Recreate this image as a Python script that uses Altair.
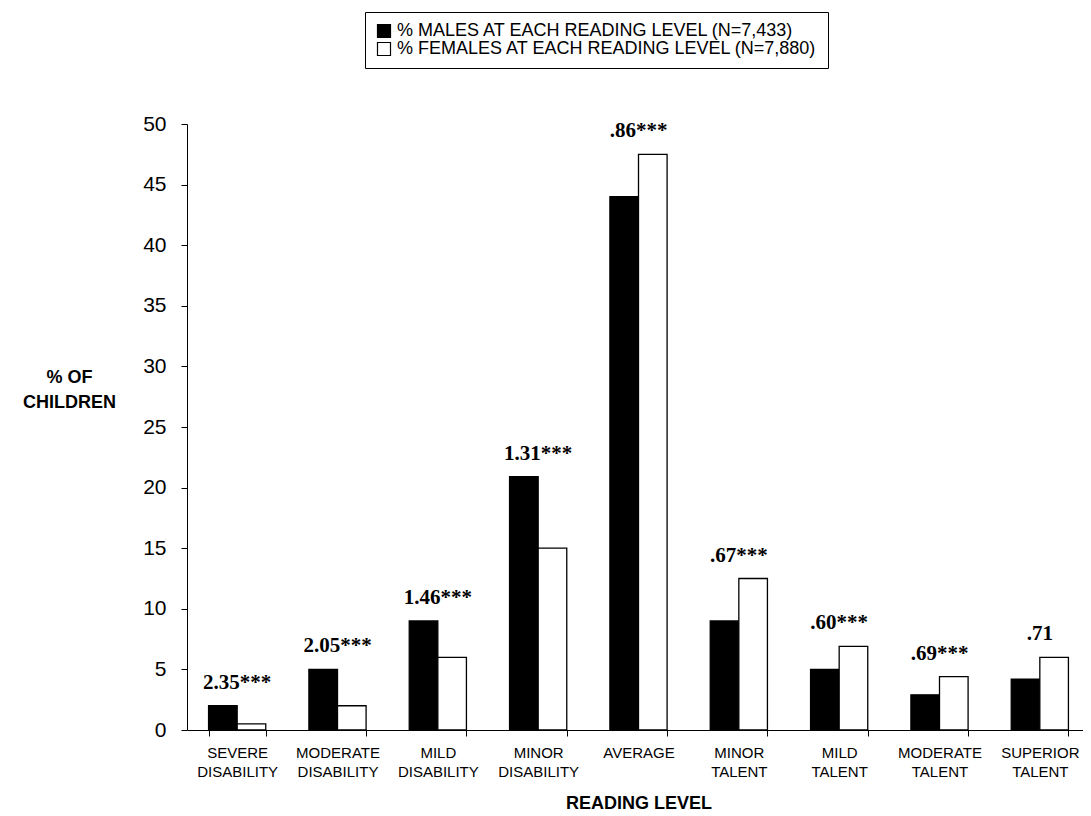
import altair as alt
import pandas as pd

categories = ["SEVERE DISABILITY", "MODERATE DISABILITY", "MILD DISABILITY",
              "MINOR DISABILITY", "AVERAGE", "MINOR TALENT", "MILD TALENT",
              "MODERATE TALENT", "SUPERIOR TALENT"]
males = [2.0, 5.0, 9.0, 20.9, 44.0, 9.0, 5.0, 2.9, 4.2]
females = [0.5, 2.0, 6.0, 15.0, 47.5, 12.5, 6.9, 4.4, 6.0]
ratios = ["2.35***", "2.05***", "1.46***", "1.31***", ".86***",
          ".67***", ".60***", ".69***", ".71"]
series = ["% MALES AT EACH READING LEVEL (N=7,433)",
          "% FEMALES AT EACH READING LEVEL (N=7,880)"]
y_ticks = [0, 5, 10, 15, 20, 25, 30, 35, 40, 45, 50]

rows = []
for c, m, f in zip(categories, males, females):
    rows.append({"level": c, "group": series[0], "pct": m})
    rows.append({"level": c, "group": series[1], "pct": f})
bars_df = pd.DataFrame(rows)

ann_df = pd.DataFrame({
    "level": categories,
    "label": ratios,
    "top": [max(m, f) for m, f in zip(males, females)],
})

x_scale = alt.Scale(domain=categories, paddingInner=0.43, paddingOuter=0.215)
y_scale = alt.Scale(domain=[0, 50], nice=False)

bars = alt.Chart(bars_df).mark_bar(stroke="black", strokeWidth=1.3).encode(
    x=alt.X("level:N", scale=x_scale, sort=categories,
            axis=alt.Axis(title="READING LEVEL", labelAngle=0,
                          labelExpr="split(datum.label, ' ')",
                          labelFont="Liberation Sans", labelFontSize=15,
                          labelLineHeight=19, labelPadding=9,
                          labelColor="black", tickSize=6, tickColor="black",
                          tickBand="extent", domainColor="black",
                          titleFont="Liberation Sans", titleFontSize=18,
                          titleFontWeight="bold", titleColor="black",
                          titlePadding=15)),
    xOffset=alt.XOffset("group:N", sort=series,
                        scale=alt.Scale(domain=series, paddingInner=0, paddingOuter=0)),
    y=alt.Y("pct:Q", scale=y_scale,
            axis=alt.Axis(values=y_ticks, grid=False,
                          labelFont="Liberation Sans", labelFontSize=21,
                          labelColor="black", labelPadding=15,
                          tickSize=6, tickColor="black", domainColor="black",
                          title=["% OF", "CHILDREN"], titleAngle=0,
                          titleAlign="center", titleBaseline="alphabetic",
                          titleX=-118, titleY=258, titleLineHeight=25,
                          titleFont="Liberation Sans", titleFontSize=18,
                          titleFontWeight="bold", titleColor="black")),
    fill=alt.Fill("group:N", sort=series,
                  scale=alt.Scale(domain=series, range=["black", "white"]),
                  legend=alt.Legend(title=None, orient="none",
                                    legendX=178, legendY=-112,
                                    symbolType="square", symbolSize=169,
                                    symbolStrokeColor="black",
                                    symbolStrokeWidth=1.2,
                                    labelFont="Liberation Sans",
                                    labelFontSize=18, labelColor="black",
                                    labelLimit=1000, labelOffset=4,
                                    rowPadding=0,
                                    strokeColor="black", fillColor="white",
                                    padding=10)),
)

labels = alt.Chart(ann_df).mark_text(
    font="Liberation Serif", fontWeight="bold", fontSize=21,
    color="black", baseline="alphabetic", align="center", dy=-17,
).encode(
    x=alt.X("level:N", scale=x_scale, sort=categories),
    y=alt.Y("top:Q", scale=y_scale),
    text="label:N",
)

chart = alt.layer(bars, labels).properties(
    width=903, height=606,
    padding={"left": 14, "top": 3, "right": -7, "bottom": 0},
    background="white",
).configure_view(stroke=None)

chart.save("out.html", embed_options={"renderer": "svg", "actions": False})
